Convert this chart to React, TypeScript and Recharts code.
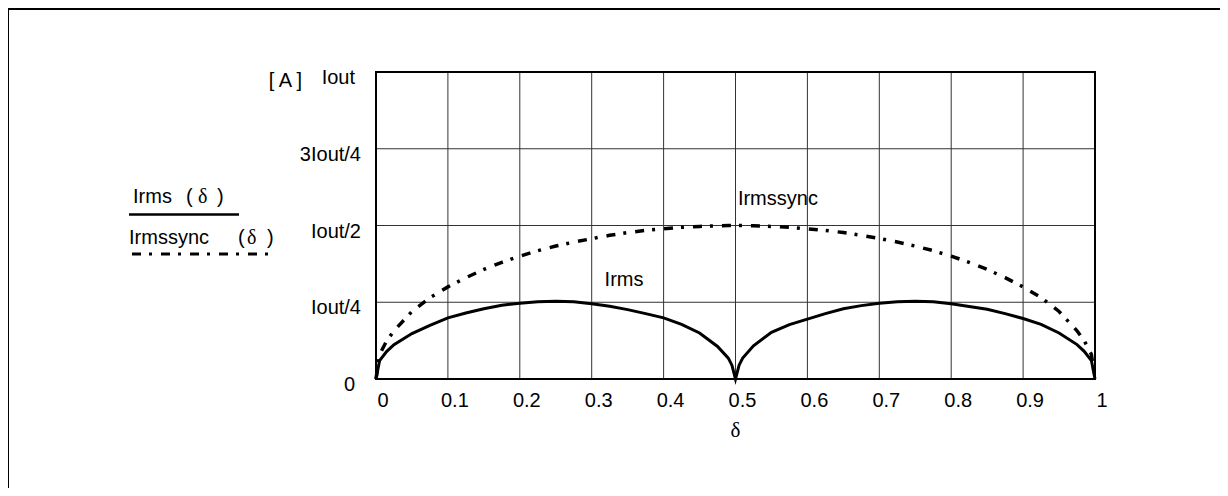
import React from "react";
import { LineChart, Line, XAxis, YAxis, CartesianGrid, Legend, ReferenceArea, ReferenceDot } from "recharts";

// duty ratio δ
const deltas = [
  0, 0.005, 0.015, 0.025, 0.05, 0.075, 0.1, 0.125, 0.15, 0.175, 0.2, 0.225, 0.25, 0.275, 0.3, 0.325, 0.35,
  0.375, 0.4, 0.425, 0.45, 0.475, 0.49, 0.495, 0.5, 0.505, 0.51, 0.525, 0.55, 0.575, 0.6, 0.625, 0.65, 0.675,
  0.7, 0.725, 0.75, 0.775, 0.8, 0.825, 0.85, 0.875, 0.9, 0.925, 0.95, 0.975, 0.985, 0.995, 1,
];
// in units of Iout
const irms = [
  0, 0.06, 0.09, 0.112, 0.148, 0.175, 0.199, 0.215, 0.229, 0.24, 0.247, 0.252, 0.253, 0.252, 0.245, 0.237,
  0.226, 0.213, 0.199, 0.178, 0.15, 0.106, 0.068, 0.045, 0, 0.045, 0.068, 0.108, 0.152, 0.177, 0.195, 0.213,
  0.229, 0.239, 0.247, 0.252, 0.253, 0.252, 0.245, 0.236, 0.227, 0.213, 0.197, 0.178, 0.15, 0.112, 0.09, 0.06, 0,
];
const irmssync = [
  0, 0.08, 0.125, 0.157, 0.22, 0.265, 0.3, 0.33, 0.357, 0.38, 0.4, 0.418, 0.433, 0.446, 0.457, 0.468, 0.477,
  0.484, 0.489, 0.494, 0.497, 0.499, 0.5, 0.5, 0.5, 0.5, 0.5, 0.499, 0.497, 0.494, 0.489, 0.484, 0.477, 0.468,
  0.458, 0.446, 0.433, 0.418, 0.4, 0.38, 0.357, 0.33, 0.3, 0.265, 0.22, 0.157, 0.125, 0.08, 0,
];

const xTicks = [0, 0.1, 0.2, 0.3, 0.4, 0.5, 0.6, 0.7, 0.8, 0.9, 1];
const yTicks = [0, 0.25, 0.5, 0.75, 1];
const yLabels = ["0", "Iout/4", "Iout/2", "3Iout/4", "Iout"];

const data = deltas.map((d, i) => ({ d, irms: irms[i], sync: irmssync[i] }));

const FONT = "'Liberation Sans', Arial, sans-serif";
const SERIF = "'Liberation Serif', 'Times New Roman', serif";
const DASHDOT = "9 8 3 9";

const XTick = (props: any) => {
  const { x, y, payload } = props;
  return (
    <text x={x + 7} y={y + 21} dy="0.355em" textAnchor="middle" fontSize={20} fontFamily={FONT} fill="#000">
      {String(payload.value)}
    </text>
  );
};

const YTick = (props: any) => {
  const { x, y, payload } = props;
  const idx = yTicks.indexOf(payload.value);
  const shift = payload.value === 0 || payload.value === 1 ? 21 : 15;
  return (
    <text x={x - shift} y={y + 5} dy="0.355em" textAnchor="end" fontSize={20} fontFamily={FONT} fill="#000">
      {yLabels[idx]}
    </text>
  );
};

const LegendBox = (props: any) => {
  const names = (props.payload || []).map((p: any) => p.value);
  return (
    <svg width={300} height={280} style={{ display: "block" }}>
      <text x={133} y={203} fontSize={20} fontFamily={FONT} fill="#000">
        {names[0]}
      </text>
      <text x={186} y={203} fontSize={20} fontFamily={FONT} fill="#000">(</text>
      <text x={198} y={203} fontSize={20} fontFamily={SERIF} fill="#000">δ</text>
      <text x={217} y={203} fontSize={20} fontFamily={FONT} fill="#000">)</text>
      <line x1={129} x2={239} y1={214.5} y2={214.5} stroke="#000" strokeWidth={2.5} />
      <text x={129} y={244} fontSize={20} fontFamily={FONT} fill="#000">
        {names[1]}
      </text>
      <text x={238} y={244} fontSize={20} fontFamily={FONT} fill="#000">(</text>
      <text x={247} y={244} fontSize={20} fontFamily={SERIF} fill="#000">δ</text>
      <text x={267} y={244} fontSize={20} fontFamily={FONT} fill="#000">)</text>
      <line x1={132} x2={268} y1={254} y2={254} stroke="#000" strokeWidth={3} strokeDasharray={DASHDOT} />
    </svg>
  );
};

export default function App() {
  return (
    <div style={{ position: "relative", width: 1228, height: 496, margin: -8, overflow: "hidden", background: "#fff" }}>
      <div
        style={{
          position: "absolute",
          left: 6,
          top: 7,
          width: 1240,
          height: 500,
          borderTop: "3px solid #000",
          borderLeft: "3px solid #000",
        }}
      />
      <div style={{ position: "absolute", left: 0, top: 0 }}>
        <LineChart width={1228} height={496} data={data} margin={{ top: 72, right: 133, bottom: 77, left: 16 }}>
          <CartesianGrid stroke="#333" strokeWidth={1} />
          <XAxis
            dataKey="d"
            type="number"
            domain={[0, 1]}
            ticks={xTicks}
            height={40}
            tickLine={false}
            tickSize={0}
            tickMargin={0}
            axisLine={{ stroke: "#000", strokeWidth: 2 }}
            tick={<XTick />}
            label={{
              content: (p: any) => (
                <text
                  x={p.viewBox.x + p.viewBox.width / 2}
                  y={p.viewBox.y + 58}
                  textAnchor="middle"
                  fontSize={21}
                  fontFamily={SERIF}
                  fill="#000"
                >
                  δ
                </text>
              ),
            }}
          />
          <YAxis
            type="number"
            domain={[0, 1]}
            ticks={yTicks}
            width={360}
            tickLine={false}
            tickSize={0}
            tickMargin={0}
            axisLine={{ stroke: "#000", strokeWidth: 2 }}
            tick={<YTick />}
            label={{
              content: (p: any) => (
                <text
                  x={p.viewBox.x + p.viewBox.width - 74}
                  y={p.viewBox.y + 8}
                  dy="0.355em"
                  textAnchor="end"
                  fontSize={20}
                  fontFamily={FONT}
                  fill="#000"
                >
                  [ A ]
                </text>
              ),
            }}
          />
          <ReferenceArea x1={0} x2={1} y1={0} y2={1} fill="none" stroke="#000" strokeWidth={2} ifOverflow="visible" />
          <Legend
            layout="horizontal"
            align="center"
            verticalAlign="middle"
            wrapperStyle={{ left: 0, top: 0, width: 300, height: 280 }}
            content={<LegendBox />}
          />
          <Line
            type="linear"
            dataKey="sync"
            name="Irmssync"
            stroke="#000"
            strokeWidth={3.5}
            strokeDasharray={DASHDOT}
            dot={false}
            activeDot={false}
            isAnimationActive={false}
          />
          <Line
            type="linear"
            dataKey="irms"
            name="Irms"
            stroke="#000"
            strokeWidth={3}
            dot={false}
            activeDot={false}
            isAnimationActive={false}
          />
          <ReferenceDot
            x={0.559}
            y={0.59}
            r={0}
            fill="none"
            stroke="none"
            ifOverflow="visible"
            label={{ value: "Irmssync", position: "center", fontSize: 20, fontFamily: FONT, fill: "#000" }}
          />
          <ReferenceDot
            x={0.345}
            y={0.327}
            r={0}
            fill="none"
            stroke="none"
            ifOverflow="visible"
            label={{ value: "Irms", position: "center", fontSize: 20, fontFamily: FONT, fill: "#000" }}
          />
        </LineChart>
      </div>
    </div>
  );
}
